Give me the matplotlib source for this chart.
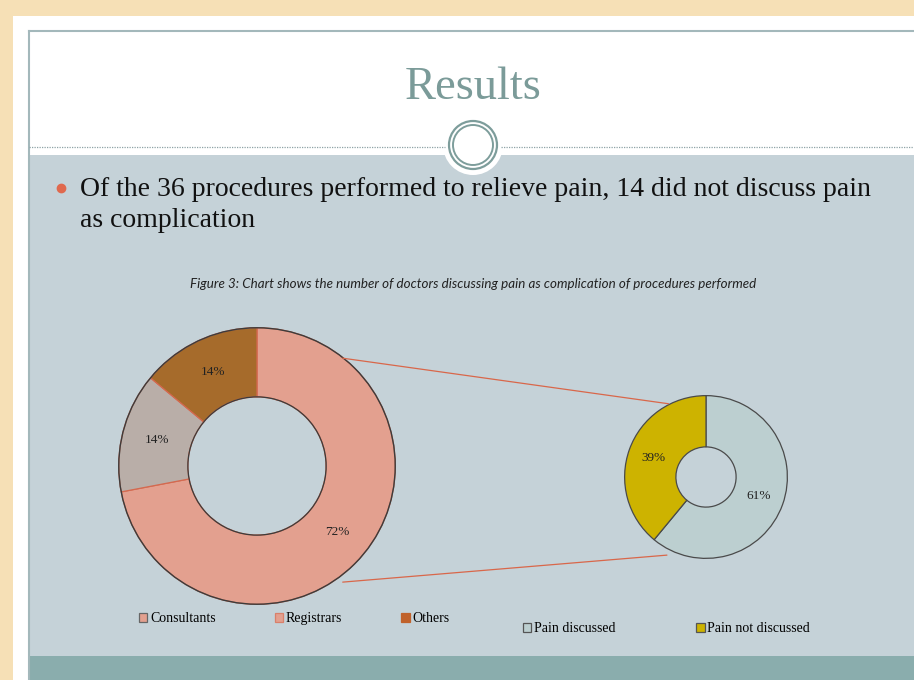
import matplotlib.pyplot as plt
from matplotlib.patches import Rectangle, Circle, Patch, ConnectionPatch

# data
staff_labels = ["Consultants", "Registrars", "Others"]
staff_pct = [72, 14, 14]
staff_colors = ["#e3a08f", "#b9aea8", "#a66b2b"]
staff_legend_colors = ["#e3a08f", "#e3a08f", "#c0622b"]
staff_legend_edges = ["#666666", "#d9806a", "#c0622b"]

pain_labels = ["Pain discussed", "Pain not discussed"]
pain_pct = [61, 39]
pain_colors = ["#bccfd0", "#cdb300"]

title = "Results"
bullet = ("Of the 36 procedures performed to relieve pain, 14 did not discuss pain\n"
          "as complication")
caption = ("Figure 3: Chart shows the number of doctors discussing pain as "
           "complication of procedures performed")

W, H = 914, 680
fig = plt.figure(figsize=(W / 100, H / 100), dpi=100)
fig.patch.set_facecolor("#f6e0b6")

# slide background, drawn in pixel coords (y down)
bg = fig.add_axes([0, 0, 1, 1])
bg.set_xlim(0, W)
bg.set_ylim(H, 0)
bg.axis("off")
bg.add_patch(Rectangle((13, 16), W, H, facecolor="white", edgecolor="none"))
bg.add_patch(Rectangle((29, 155), W, 501, facecolor="#c5d2d8", edgecolor="none"))
bg.add_patch(Rectangle((29, 656), W, 30, facecolor="#8aadad", edgecolor="none"))
bg.plot([29, 29], [31, H], color="#a3b8bb", lw=1.5)
bg.plot([29, W], [31, 31], color="#a3b8bb", lw=1.5)
bg.plot([29, 445], [147, 147], color="#8ea3a6", lw=0.9, ls=(0, (1, 1)))
bg.plot([501, W], [147, 147], color="#8ea3a6", lw=0.9, ls=(0, (1, 1)))
bg.add_patch(Circle((473, 145), 30, facecolor="white", edgecolor="none"))
bg.add_patch(Circle((473, 145), 24, facecolor="none", edgecolor="#7d9d9b", lw=1.6))
bg.add_patch(Circle((473, 145), 20, facecolor="none", edgecolor="#7d9d9b", lw=1.4))

serif = "Liberation Serif"
bg.text(473, 88, title, ha="center", va="center", fontsize=33.5,
        family=serif, color="#7b9b99")
bg.plot([61], [188], "o", color="#e0694e", ms=6)
bg.text(80, 177, bullet, ha="left", va="top", fontsize=20,
        family=serif, color="#111111", linespacing=1.3)
bg.text(473, 284, caption, ha="center", va="center", fontsize=9.6,
        family="Lato", style="italic", color="#222222")

# big donut
R1, c1 = 141, (257, 466)
ax1 = fig.add_axes([(c1[0] - R1) / W, 1 - (c1[1] + R1) / H, 2 * R1 / W, 2 * R1 / H])
wedges1, _, pct1 = ax1.pie(staff_pct, colors=staff_colors, startangle=90,
                           counterclock=False, autopct="%1.0f%%", pctdistance=0.75,
                           wedgeprops=dict(width=0.5, edgecolor="#d4694f", linewidth=0.9),
                           textprops=dict(family=serif, fontsize=9.5, color="#222222"))
ax1.add_patch(Circle((0, 0), 1.0, facecolor="none", edgecolor="#3c3c3c", lw=1.0))
ax1.add_patch(Circle((0, 0), 0.5, facecolor="none", edgecolor="#3c3c3c", lw=0.9))
ax1.set_xlim(-1.02, 1.02)
ax1.set_ylim(-1.02, 1.02)
ax1.set_aspect("equal")

# small donut
R2, c2 = 83, (706, 477)
ax2 = fig.add_axes([(c2[0] - R2) / W, 1 - (c2[1] + R2) / H, 2 * R2 / W, 2 * R2 / H])
wedges2, _, pct2 = ax2.pie(pain_pct, colors=pain_colors, startangle=90,
                           counterclock=False, autopct="%1.0f%%", pctdistance=0.69,
                           wedgeprops=dict(width=0.63, edgecolor="#4a4a4a", linewidth=0.9),
                           textprops=dict(family=serif, fontsize=9.5, color="#222222"))
ax2.set_xlim(-1.02, 1.02)
ax2.set_ylim(-1.02, 1.02)
ax2.set_aspect("equal")

# connector lines
for p1, p2 in [((0.62, 0.78), (-0.46, 0.90)), ((0.62, -0.84), (-0.48, -0.96))]:
    con = ConnectionPatch(xyA=p1, coordsA=ax1.transData, xyB=p2, coordsB=ax2.transData,
                          color="#d9674a", lw=0.9)
    fig.add_artist(con)

# legends
h1 = [Patch(facecolor=f, edgecolor=e, lw=0.9) for f, e in zip(staff_legend_colors, staff_legend_edges)]
fig.legend(h1, staff_labels, loc="upper left", bbox_to_anchor=(139 / W, 1 - 612 / H),
           ncol=3, frameon=False, borderpad=0, borderaxespad=0, handlelength=0.6,
           handleheight=0.6, handletextpad=0.2, columnspacing=4.25,
           prop=dict(family=serif, size=10))
h2 = [Patch(facecolor=c, edgecolor="#555555", lw=0.9) for c in pain_colors]
fig.legend(h2, pain_labels, loc="upper left", bbox_to_anchor=(523 / W, 1 - 622 / H),
           ncol=2, frameon=False, borderpad=0, borderaxespad=0, handlelength=0.6,
           handleheight=0.6, handletextpad=0.2, columnspacing=5.8,
           prop=dict(family=serif, size=10))

fig.savefig("out.png", dpi=100, facecolor=fig.get_facecolor())
